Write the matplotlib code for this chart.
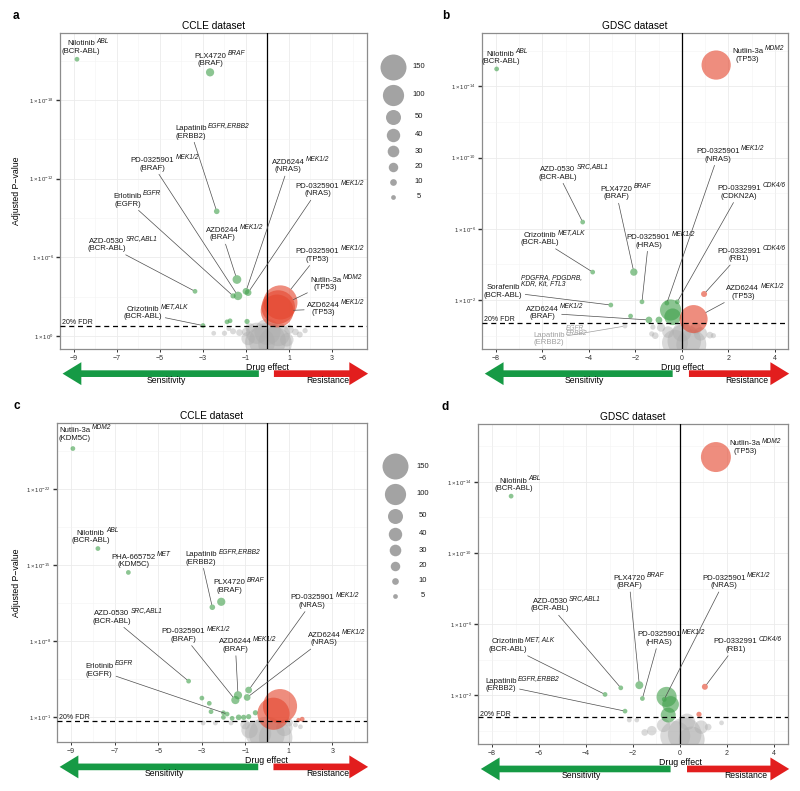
import numpy as np
import matplotlib
matplotlib.use("Agg")
import matplotlib.pyplot as plt
from matplotlib.patches import FancyArrowPatch, ArrowStyle

plt.rcParams["font.family"] = ["Liberation Sans", "DejaVu Sans"]
plt.rcParams["mathtext.fontset"] = "custom"
plt.rcParams["mathtext.rm"] = "Liberation Sans"
plt.rcParams["mathtext.it"] = "Liberation Sans:italic"
plt.rcParams["mathtext.bf"] = "Liberation Sans:bold"

# ---------------- data ----------------
# drug effect, -log10(adjusted P), number of cell lines, class (S sensitive, R resistant, N not sig.)
a_effect = [-8.86, -2.67, -2.36, -3.37, -3.0, -1.6, -1.37, -1.42, -1.0, -0.9, 0.6, 0.5, 0.45,
            -1.88, -1.74, -0.95,
            0.0, 0.35, -0.35, 0.0, 0.5, -0.5, 0.9, -0.9, -0.8, 1.0, -1.0, -1.3, -1.6, -2.0, -2.5, -1.8, 1.3, 1.5, 1.75]
a_logp = [21.1, 20.1, 9.5, 3.4, 0.79, 3.05, 3.05, 4.3, 3.4, 3.3, 2.55, 2.2, 1.9,
          1.07, 1.15, 1.1,
          -0.4, -0.6, -0.5, 0.3, 0.1, 0.2, -0.3, -0.2, 0.6, 0.5, 0.3, 0.25, 0.35, 0.2, 0.2, 0.55, 0.3, 0.1, 0.4]
a_n = [5, 15, 7, 5, 5, 6, 16, 17, 10, 10, 260, 250, 240,
       5, 5, 6,
       300, 250, 200, 150, 120, 100, 40, 40, 20, 20, 15, 10, 8, 6, 5, 5, 10, 8, 6]
a_class = "SSSSSSSSSSRRR" + "SSS" + "N" * 19

b_effect = [-7.97, 1.47, -4.27, -3.84, -3.06, -2.07, -1.72, -1.42, -0.49, -0.4, -0.65, -0.2, 0.95, 0.5,
            -2.45, -2.21, -0.99,
            0.1, 0.4, -0.3, 0.0, -0.6, 0.8, 0.6, -0.9, -1.15, -1.25, -1.3, 1.2, 1.35]
b_logp = [14.98, 15.2, 6.38, 3.57, 1.72, 3.57, 1.9, 0.88, 1.44, 1.06, 1.83, 1.9, 2.34, 0.93,
          0.54, 1.1, 0.88,
          -0.3, -0.5, -0.4, 0.2, 0.2, 0.1, 0.4, 0.45, 0.0, 0.48, 0.1, 0.03, 0.0]
b_n = [5, 190, 5, 5, 5, 12, 5, 10, 100, 62, 5, 5, 8, 175,
       5, 5, 10,
       250, 200, 150, 80, 30, 40, 30, 15, 10, 6, 6, 10, 6]
b_class = "SRSSSSSSSSSSRRNSS" + "N" * 13

c_effect = [-8.92, -7.77, -6.37, -2.51, -2.1, -3.6, -1.45, -1.33, -0.84, -0.91, -1.83, 0.6, 0.3, 1.62, 1.45,
            -2.99, -2.65, -2.57, -2.0, -2.0, -1.6, -1.3, -1.07, -0.84, -0.53,
            0.0, 0.4, -0.4, -0.8, 0.8, -1.0, 1.0, -2.93, -2.37, -1.65, 1.54, 1.31]
c_logp = [25.7, 16.5, 14.3, 11.1, 11.6, 4.3, 2.56, 3.0, 3.48, 2.8, 1.27, 2.0, 1.3, 0.8, 0.72,
          2.74, 2.26, 1.49, 1.39, 0.97, 0.88, 0.97, 0.97, 1.03, 1.39,
          -0.6, -0.9, -0.5, -0.2, 0.0, 0.3, 0.5, 0.45, 0.45, 0.45, 0.1, 0.27]
c_n = [5, 5, 5, 7, 15, 5, 15, 15, 10, 10, 5, 260, 230, 5, 4,
       5, 5, 5, 5, 5, 5, 7, 6, 6, 6,
       280, 250, 150, 60, 60, 20, 15, 5, 5, 5, 5, 5]
c_class = "SSSSSSSSSSSRRRR" + "S" * 10 + "N" * 12

d_effect = [1.53, -7.19, -2.52, -1.73, -3.19, -2.34, -1.6, -0.57, -0.4, -0.5, -0.67, 1.06, 0.81,
            0.2, -0.2, 0.5, 0.3, -0.7, 0.9, -1.2, 1.2, -1.5, -2.16, -1.84, 1.77]
d_logp = [15.4, 13.2, 2.41, 2.56, 2.04, 1.1, 1.81, 1.9, 1.48, 0.88, 1.76, 2.47, 0.92,
          -0.2, -0.3, -0.5, 0.5, 0.3, 0.2, 0.0, 0.2, -0.1, 0.6, 0.6, 0.44]
d_n = [200, 5, 5, 14, 5, 5, 5, 90, 62, 50, 5, 8, 6,
       250, 200, 150, 60, 40, 40, 20, 10, 10, 5, 5, 5]
d_class = "RSSSSSSSSSSRR" + "N" * 12

# -log10 adjusted P at 20% FDR, per panel
fdr = [0.79, 0.72, 0.63, 0.76]

# labels: (point index, drug, target, biomarker)
a_labels = [(0, "Nilotinib", "ABL", "BCR-ABL"), (1, "PLX4720", "BRAF", "BRAF"),
            (2, "Lapatinib", "EGFR,ERBB2", "ERBB2"), (6, "PD-0325901", "MEK1/2", "BRAF"),
            (8, "AZD6244", "MEK1/2", "NRAS"), (9, "PD-0325901", "MEK1/2", "NRAS"),
            (5, "Erlotinib", "EGFR", "EGFR"), (7, "AZD6244", "MEK1/2", "BRAF"),
            (3, "AZD-0530", "SRC,ABL1", "BCR-ABL"), (10, "PD-0325901", "MEK1/2", "TP53"),
            (11, "Nutlin-3a", "MDM2", "TP53"), (12, "AZD6244", "MEK1/2", "TP53"),
            (4, "Crizotinib", "MET,ALK", "BCR-ABL")]
b_labels = [(0, "Nilotinib", "ABL", "BCR-ABL"), (1, "Nutlin-3a", "MDM2", "TP53"),
            (10, "PD-0325901", "MEK1/2", "NRAS"), (2, "AZD-0530", "SRC,ABL1", "BCR-ABL"),
            (5, "PLX4720", "BRAF", "BRAF"), (11, "PD-0332991", "CDK4/6", "CDKN2A"),
            (3, "Crizotinib", "MET,ALK", "BCR-ABL"), (6, "PD-0325901", "MEK1/2", "HRAS"),
            (12, "PD-0332991", "CDK4/6", "RB1"), (13, "AZD6244", "MEK1/2", "TP53"),
            (7, "AZD6244", "MEK1/2", "BRAF"),
            (4, "Sorafenib", "PDGFRA, PDGDRB,\nKDR, Kit, FTL3", "BCR-ABL"),
            (14, "Lapatinib", "EGFR,\nERBB2", "ERBB2")]
c_labels = [(0, "Nutlin-3a", "MDM2", "KDM5C"), (1, "Nilotinib", "ABL", "BCR-ABL"),
            (2, "PHA-665752", "MET", "KDM5C"), (3, "Lapatinib", "EGFR,ERBB2", "ERBB2"),
            (4, "PLX4720", "BRAF", "BRAF"), (8, "PD-0325901", "MEK1/2", "NRAS"),
            (5, "AZD-0530", "SRC,ABL1", "BCR-ABL"), (6, "PD-0325901", "MEK1/2", "BRAF"),
            (7, "AZD6244", "MEK1/2", "BRAF"), (9, "AZD6244", "MEK1/2", "NRAS"),
            (10, "Erlotinib", "EGFR", "EGFR")]
d_labels = [(0, "Nutlin-3a", "MDM2", "TP53"), (1, "Nilotinib", "ABL", "BCR-ABL"),
            (3, "PLX4720", "BRAF", "BRAF"), (10, "PD-0325901", "MEK1/2", "NRAS"),
            (2, "AZD-0530", "SRC,ABL1", "BCR-ABL"), (6, "PD-0325901", "MEK1/2", "HRAS"),
            (11, "PD-0332991", "CDK4/6", "RB1"), (4, "Crizotinib", "MET, ALK", "BCR-ABL"),
            (5, "Lapatinib", "EGFR,ERBB2", "ERBB2")]

legend_sizes = [150, 100, 50, 40, 30, 20, 10, 5]

# ---------------- layout ----------------
# label centre (data coords) and whether a segment is drawn
a_label_xy = [(-8.67, 21.98, 0), (-2.67, 21.04, 0), (-3.56, 15.53, 1), (-5.35, 13.09, 1), (0.97, 12.95, 1),
              (2.33, 11.11, 1), (-6.51, 10.34, 1), (-2.1, 7.76, 1), (-7.48, 6.95, 1), (2.33, 6.13, 1),
              (2.71, 3.97, 1), (2.6, 2.05, 1), (-5.78, 1.73, 1)]
b_label_xy = [(-7.81, 15.6, 0), (2.82, 15.74, 0), (1.55, 10.13, 1), (-5.33, 9.12, 1), (-2.82, 8.0, 1),
              (2.46, 8.04, 1), (-6.12, 5.44, 1), (-1.44, 5.3, 1), (2.46, 4.53, 1), (2.62, 2.42, 1),
              (-6.0, 1.27, 1), (-7.69, 2.47, 1), (-5.73, -0.18, 1)]
c_label_xy = [(-8.82, 27.0, 0), (-8.1, 17.57, 0), (-6.14, 15.34, 0), (-3.02, 15.6, 1), (-1.71, 12.99, 0),
              (2.08, 11.62, 1), (-7.13, 10.17, 1), (-3.83, 8.49, 1), (-1.45, 7.56, 1), (2.62, 8.17, 1),
              (-7.71, 5.28, 1)]
d_label_xy = [(2.77, 15.93, 0), (-7.09, 13.83, 0), (-2.16, 8.37, 1), (1.87, 8.37, 1), (-5.53, 7.06, 1),
              (-0.89, 5.18, 1), (2.37, 4.78, 1), (-7.34, 4.78, 1), (-7.62, 2.56, 1)]
sup_dy = {"Sorafenib": 8.1, "Lapatinib\nERBB2": 6.0}

W, H = 800, 791
SIZE_K = 2.33          # points^2 per cell line
FS = 5.6
LS = 1.1
COLORS = {"S": ("#3f9f4a", 0.6), "R": ("#e5472f", 0.62), "N": ("#adadad", 0.45)}

fig = plt.figure(figsize=(W / 100, H / 100), dpi=100)
rend = fig.canvas.get_renderer()


def px_rect(l, t, r, b):
    return [l / W, 1 - b / H, (r - l) / W, (b - t) / H]


def text_width_pt(s, size):
    t = fig.text(0, 0, s, fontsize=size)
    w = t.get_window_extent(renderer=rend).width
    t.remove()
    return w * 72 / fig.dpi


def put_label(ax, px, py, n, drug, target, marker, lx, ly, line, grey):
    col = "#a0a0a0" if grey else "#1a1a1a"
    arrow = None
    if line:
        arrow = dict(arrowstyle="-", color="#a0a0a0" if grey else "#4d4d4d", lw=0.5,
                     shrinkA=0, shrinkB=np.sqrt(SIZE_K * n) / 2)
    ax.annotate(drug + "\n(" + marker + ")", xy=(px, py), xytext=(lx, ly), ha="center", va="center",
                fontsize=FS, linespacing=LS, color=col, arrowprops=arrow, zorder=6,
                annotation_clip=False)
    w = text_width_pt(drug, FS)
    dy = sup_dy.get(drug, 4.7)
    if grey:
        dy = sup_dy.get(drug + "\n" + marker, dy)
    ax.annotate(target, xy=(lx, ly), xytext=(w / 2 + 1.0, dy), textcoords="offset points",
                ha="left", va="center", fontsize=FS * 0.85, style="italic", color=col,
                linespacing=0.95, zorder=6, annotation_clip=False)


panels = [
    dict(letter="a", title="CCLE dataset", x=a_effect, y=a_logp, n=a_n, cls=a_class, labels=a_labels,
         lab=a_label_xy, fdr=fdr[0], rect=(60, 33, 367, 349), xlim=(-9.65, 4.63), ylim=(-1.0, 23.1),
         xmaj=np.arange(-9, 4, 2), ymaj=[0, 6, 12, 18], ylabel=True, legend=(393, 67, 419)),
    dict(letter="b", title="GDSC dataset", x=b_effect, y=b_logp, n=b_n, cls=b_class, labels=b_labels,
         lab=b_label_xy, fdr=fdr[1], rect=(482, 33, 788, 349), xlim=(-8.6, 4.56), ylim=(-0.75, 17.0),
         xmaj=np.arange(-8, 5, 2), ymaj=[2, 6, 10, 14], ylabel=False, legend=None),
    dict(letter="c", title="CCLE dataset", x=c_effect, y=c_logp, n=c_n, cls=c_class, labels=c_labels,
         lab=c_label_xy, fdr=fdr[2], rect=(57, 423, 367, 742), xlim=(-9.65, 4.6), ylim=(-1.3, 28.05),
         xmaj=np.arange(-9, 4, 2), ymaj=[1, 8, 15, 22], ylabel=True, legend=(395, 466, 423)),
    dict(letter="d", title="GDSC dataset", x=d_effect, y=d_logp, n=d_n, cls=d_class, labels=d_labels,
         lab=d_label_xy, fdr=fdr[3], rect=(478, 424, 788, 744), xlim=(-8.6, 4.6), ylim=(-0.75, 17.26),
         xmaj=np.arange(-8, 5, 2), ymaj=[2, 6, 10, 14], ylabel=False, legend=None),
]

ov = fig.add_axes([0, 0, 1, 1], zorder=10)
ov.set_xlim(0, W)
ov.set_ylim(H, 0)
ov.axis("off")
ov.patch.set_alpha(0)

for p in panels:
    ax = fig.add_axes(px_rect(*p["rect"]))
    x = np.array(p["x"])
    y = np.array(p["y"])
    n = np.array(p["n"])
    cls = np.array(list(p["cls"]))

    # points: grey cloud first, then sensitive, then resistant; big ones under small ones
    for c in "NSR":
        idx = np.where(cls == c)[0]
        idx = idx[np.argsort(-n[idx], kind="stable")]
        col, al = COLORS[c]
        ax.scatter(x[idx], y[idx], s=SIZE_K * n[idx], color=col, alpha=al, linewidths=0, zorder=2)

    ax.axvline(0, color="black", lw=0.9, zorder=3)
    ax.axhline(p["fdr"], color="black", lw=0.9, ls=(0, (4, 3)), zorder=3)
    ax.annotate("20% FDR", xy=(0.008, p["fdr"]), xycoords=("axes fraction", "data"),
                xytext=(0, 2.2), textcoords="offset points", ha="left", va="center",
                fontsize=5, color="#1a1a1a", zorder=4)

    for (i, drug, target, marker), (lx, ly, line) in zip(p["labels"], p["lab"]):
        put_label(ax, x[i], y[i], n[i], drug, target, marker, lx, ly, line, cls[i] == "N")

    # axes styling
    ax.set_xlim(p["xlim"])
    ax.set_ylim(p["ylim"])
    xmaj = np.array(p["xmaj"])
    ymaj = np.array(p["ymaj"], dtype=float)
    xs = xmaj[1] - xmaj[0]
    ys = ymaj[1] - ymaj[0]
    ax.set_xticks(xmaj)
    ax.set_xticks(np.arange(xmaj[0] - xs / 2, p["xlim"][1], xs), minor=True)
    ax.set_yticks(ymaj)
    ax.set_yticks(np.arange(ymaj[0] - ys / 2, p["ylim"][1], ys), minor=True)
    ax.set_xticklabels([str(int(v)).replace("-", "\u2212") for v in xmaj])
    ax.set_yticklabels([r"$1\times10^{%d}$" % (-int(v)) for v in ymaj])
    ax.grid(which="major", color="#ebebeb", lw=0.6)
    ax.grid(which="minor", color="#f3f3f3", lw=0.4)
    ax.set_axisbelow(True)
    ax.tick_params(which="minor", length=0)
    ax.tick_params(axis="x", which="major", length=2.5, width=0.7, color="#333333",
                   labelsize=5, labelcolor="#333333", pad=1.5)
    ax.tick_params(axis="y", which="major", length=3, width=1.0, color="#333333",
                   labelsize=4.3, labelcolor="#333333", pad=1.5)
    for s in ax.spines.values():
        s.set_color("#8c8c8c")
        s.set_linewidth(0.9)
    ax.set_title(p["title"], fontsize=7.3, pad=3)
    if p["ylabel"]:
        ax.set_ylabel("Adjusted P\u2212value", fontsize=6.3)
        ax.yaxis.set_label_coords(-(p["rect"][0] - 21) / (p["rect"][2] - p["rect"][0]), 0.5)

    # drug effect axis annotation with arrows
    tr = ax.get_xaxis_transform()
    ax.text(0, -0.057, "Drug effect", transform=tr, ha="center", va="center", fontsize=6.3)
    x0, x1 = p["xlim"]
    style = ArrowStyle.Simple(head_length=13.5, head_width=16.5, tail_width=4.8)
    g = FancyArrowPatch((-0.4, -0.078), (x0 + 0.12, -0.078), transform=tr, arrowstyle=style,
                        mutation_scale=1, color="#169a45", lw=0, shrinkA=0, shrinkB=0, clip_on=False)
    r = FancyArrowPatch((0.3, -0.078), (x1 + 0.05, -0.078), transform=tr, arrowstyle=style,
                        mutation_scale=1, color="#e21e1e", lw=0, shrinkA=0, shrinkB=0, clip_on=False)
    ax.add_patch(g)
    ax.add_patch(r)
    ax.text((x0 - 0.4) / 2 + 0.3, -0.1, "Sensitivity", transform=tr, ha="center", va="center",
            fontsize=6.2)
    ax.text((x1 + 0.3) / 2 + 0.35, -0.1, "Resistance", transform=tr, ha="center", va="center",
            fontsize=6.2)
    ax.set_xlim(p["xlim"])
    ax.set_ylim(p["ylim"])

    # panel letter
    l, t = p["rect"][0], p["rect"][1]
    ov.text(13 if l < 400 else 442, t - 17, p["letter"], fontsize=8.5, fontweight="bold",
            ha="left", va="center")

    # size legend
    if p["legend"]:
        lx0, ly0, ltx = p["legend"]
        d = [np.sqrt(SIZE_K * v) * fig.dpi / 72 for v in legend_sizes]
        h = [max(di, 11) + 4 for di in d]
        yy = ly0
        for k, v in enumerate(legend_sizes):
            if k:
                yy += (h[k - 1] + h[k]) / 2
            ov.scatter([lx0], [yy], s=SIZE_K * v, color="#999999", alpha=0.9, linewidths=0)
            ov.text(ltx, yy, str(v), fontsize=5.5, ha="center", va="center", color="#1a1a1a")

fig.savefig("out.png", dpi=100)
